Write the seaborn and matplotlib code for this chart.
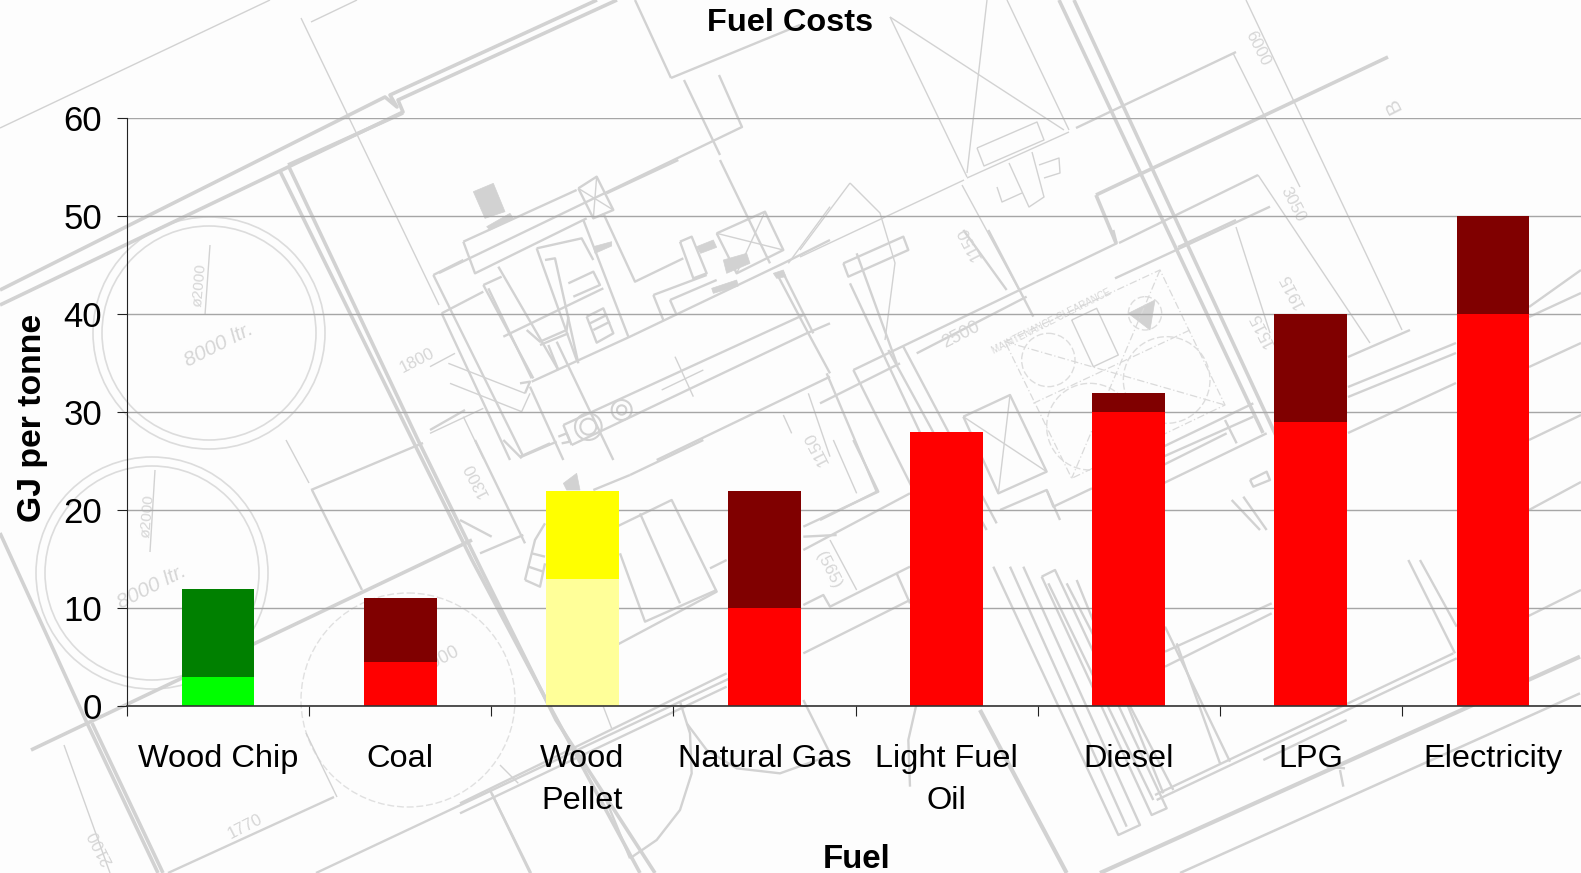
import matplotlib
matplotlib.use("Agg")
import matplotlib.pyplot as plt
import seaborn as sns
import pandas as pd
from matplotlib.patches import Circle, Polygon

# Fuel cost bands (lower and upper end of each range)
fuels = ["Wood Chip", "Coal", "Wood\nPellet", "Natural Gas", "Light Fuel\nOil", "Diesel", "LPG", "Electricity"]
band_low = [3, 4.5, 13, 10, 28, 30, 29, 40]
band_high = [12, 11, 22, 22, 28, 32, 40, 50]
low_colours = ["#00ff00", "#ff0000", "#ffff99", "#ff0000", "#ff0000", "#ff0000", "#ff0000", "#ff0000"]
high_colours = ["#008000", "#800000", "#ffff00", "#800000", "#800000", "#800000", "#800000", "#800000"]
y_ticks = [0, 10, 20, 30, 40, 50, 60]

W, H = 1581, 873
PLAN = "#d2d2d2"
PAPER = "#fdfdfd"

sns.set_theme(style="white")
plt.rcParams["font.family"] = ["Liberation Sans", "DejaVu Sans"]

# Site plan line work behind the chart, in pixel units
heavy = [
    [(0, 290), (385, 97), (397, 107), (390, 95), (597, 0)],
    [(0, 305), (403, 112), (398, 100), (617, 0)],
    [(280, 171), (411, 437), (472, 560), (541, 690), (640, 873)],
    [(289, 167), (418, 440), (484, 575), (556, 720), (655, 873)],
    [(288, 165), (403, 113)],
    [(1059, 0), (1263, 433)],
    [(1074, 0), (1278, 440)],
    [(31, 750), (472, 540)],
    [(0, 533), (87, 723), (158, 873)],
    [(92, 723), (163, 873)],
    [(1096, 195), (1388, 57)],
    [(1096, 195), (1116, 243)],
]
medium = [
    [(1076, 128), (1236, 52)],
    [(1119, 243), (1258, 175)],
    [(1178, 247), (1236, 220)],
    [(1410, 330), (1348, 357)],
    [(1529, 307), (1581, 270)],
    [(1529, 317), (1581, 293)],
    [(1529, 367), (1581, 343)],
    [(1348, 387), (1456, 343)],
    [(1348, 397), (1456, 353)],
    [(1348, 433), (1456, 383)],
    [(671, 78), (800, 25)],
    [(671, 78), (635, 0)],
    [(719, 75), (742, 127), (439, 273)],
    [(684, 80), (720, 155)],
    [(316, 873), (790, 650)],
    [(168, 873), (334, 797)],
    [(311, 490), (423, 443)],
    [(312, 490), (362, 590)],
    [(490, 790), (531, 873)],
    [(1466, 510), (1510, 625)],
    [(1480, 640), (1581, 590)],
    [(1529, 440), (1581, 415)],
    [(1529, 510), (1581, 482)],
]
thin = [
    [(0, 128), (270, 0)],
    [(311, 22), (357, 0)],
    [(301, 18), (439, 305)],
    [(286, 440), (309, 483)],
    [(64, 745), (110, 873)],
    [(306, 733), (337, 797)],
    [(1246, 0), (1402, 330)],
    [(1258, 175), (1370, 343)],
    [(1233, 53), (1300, 187)],
    [(1236, 227), (1270, 333)],
    [(890, 17), (967, 177)],
    [(1007, 0), (1069, 130)],
    [(890, 17), (1064, 130)],
    [(987, 0), (967, 173)],
    [(967, 178), (1069, 132)],
    [(977, 148), (1037, 122), (1044, 140), (984, 166), (977, 148)],
    [(1009, 163), (1029, 207), (1044, 197), (1032, 152)],
    [(997, 187), (1002, 202), (1022, 193)],
    [(1039, 165), (1059, 158), (1060, 173), (1044, 178)],
    [(962, 185), (1019, 290)],
    [(964, 180), (800, 257)],
    [(850, 183), (800, 250)],
    [(850, 183), (880, 213), (895, 263), (885, 340)],
    [(210, 245), (205, 315)],
    [(155, 470), (150, 552)],
]

# Equipment blocks, drawn at three units per pixel from their own origin
machine_origin = (430, 160)
machine_medium = [
    [(10, 345), (280, 890)],
    [(35, 460), (240, 900)],
    [(10, 345), (100, 300)],
    [(100, 245), (440, 90)],
    [(100, 245), (135, 340), (470, 175)],
    [(445, 85), (500, 50), (550, 150), (490, 175), (445, 85)],
    [(530, 100), (745, 0)],
    [(460, 180), (595, 530)],
    [(520, 160), (615, 365), (760, 295)],
    [(750, 245), (785, 230), (830, 340), (790, 355), (750, 245)],
    [(320, 265), (455, 235), (490, 300)],
    [(345, 300), (375, 295), (445, 610)],
    [(160, 375), (215, 350)],
    [(160, 375), (310, 655)],
    [(175, 385), (305, 655)],
    [(305, 665), (600, 530), (1060, 310), (1200, 240)],
    [(35, 460), (160, 395)],
    [(205, 320), (385, 630)],
    [(320, 265), (440, 600)],
    [(415, 370), (490, 335), (510, 375), (430, 410)],
    [(220, 530), (520, 385)],
    [(290, 510), (330, 545), (410, 510), (415, 470)],
    [(330, 555), (415, 520)],
    [(355, 555), (385, 630)],
    [(380, 545), (550, 900)],
    [(670, 405), (700, 480)],
    [(670, 405), (830, 345)],
    [(720, 420), (740, 465)],
    [(720, 420), (860, 360)],
    [(860, 220), (1005, 155), (1060, 270), (920, 340), (860, 220)],
    [(870, 0), (1020, 310)],
    [(1040, 340), (1135, 520), (1200, 640)],
    [(1060, 340), (1150, 520)],
    [(400, 795), (1120, 465)],
    [(425, 855), (1130, 520), (1200, 490)],
    [(400, 795), (425, 855)],
    [(680, 900), (1200, 650)],
    [(270, 670), (300, 665), (285, 700)],
    [(300, 680), (400, 900)],
    [(275, 890), (380, 845)],
    [(0, 810), (105, 750)],
    [(385, 830), (410, 820), (420, 845), (395, 850)],
    [(470, 470), (520, 445), (550, 520), (500, 548), (470, 470)],
    [(480, 490), (530, 465)],
    [(490, 510), (540, 485)],
]
machine_thin = [
    [(445, 85), (550, 150)],
    [(500, 50), (490, 175)],
    [(860, 220), (1060, 270)],
    [(1005, 155), (920, 340)],
    [(0, 620), (75, 580)],
    [(160, 745), (0, 820)],
    [(55, 610), (285, 700)],
    [(60, 670), (275, 755), (300, 700)],
    [(100, 770), (160, 895)],
    [(735, 590), (790, 710)],
    [(695, 690), (820, 630)],
    [(1060, 765), (1085, 820)],
    [(1135, 700), (1200, 890)],
    [(1075, 310), (1200, 140)],
]
machine_solid = [
    [(130, 95), (190, 70), (225, 155), (165, 175)],
    [(170, 200), (240, 160), (250, 175), (180, 210)],
    [(880, 300), (950, 280), (960, 310), (890, 340)],
    [(845, 385), (920, 360), (925, 378), (850, 400)],
    [(800, 260), (850, 240), (860, 262), (812, 280)],
    [(490, 260), (545, 245), (545, 258), (495, 280)],
    [(1030, 340), (1060, 330), (1068, 350), (1040, 355)],
]
machine_rings = [(475, 800, 40), (475, 800, 24), (575, 750, 30), (575, 750, 14)]

tank_origin = (820, 230)
tank_medium = [
    [(100, 420), (890, 40), (880, 0)],
    [(100, 420), (340, 900)],
    [(0, 520), (240, 400)],
    [(290, 370), (620, 200)],
    [(430, 560), (570, 495), (680, 725), (535, 790), (430, 560)],
    [(1300, 520), (1030, 650)],
    [(1340, 610), (1030, 760)],
    [(1215, 570), (1250, 640)],
    [(540, 840), (680, 780), (720, 870)],
    [(680, 780), (700, 830), (816, 775)],
    [(70, 100), (250, 20), (265, 60), (85, 140), (70, 100)],
    [(110, 70), (230, 400)],
    [(20, 430), (170, 785), (0, 870)],
    [(90, 160), (320, 650)],
    [(205, 360), (500, 900)],
    [(250, 350), (530, 880)],
    [(505, 0), (640, 260)],
    [(430, 0), (560, 180)],
    [(885, 145), (1350, -70)],
    [(1030, 705), (1220, 610)],
    [(1030, 680), (1300, 560)],
    [(1290, 750), (1340, 725), (1350, 750), (1300, 770), (1290, 750)],
    [(1235, 810), (1320, 900)],
    [(1270, 800), (1340, 900)],
]
tank_dashed = [
    [(555, 335), (1020, 120), (1215, 525), (755, 745), (555, 335)],
    [(640, 520), (1110, 300)],
    [(555, 335), (1215, 525)],
    [(1020, 120), (755, 745)],
]
tank_thin = [
    [(430, 560), (680, 725)],
    [(570, 495), (535, 790)],
    [(755, 270), (830, 235), (895, 375), (820, 410), (755, 270)],
]
tank_solid = [[(925, 250), (1005, 210), (990, 300)]]
tank_rings = [(685, 390, 80), (1040, 450, 130), (810, 590, 130), (975, 250, 50)]

pipes_origin = (980, 560)
pipes_medium = [
    [(40, 20), (415, 825), (480, 795), (130, 20)],
    [(90, 20), (440, 800)],
    [(185, 50), (225, 30), (560, 745), (515, 765), (185, 50)],
    [(205, 70), (520, 720)],
    [(260, 70), (580, 690)],
    [(290, 60), (550, 700)],
    [(530, 720), (1430, 295)],
    [(525, 705), (1420, 280)],
    [(555, 275), (875, 130)],
    [(555, 320), (875, 160)],
    [(555, 200), (750, 605)],
    [(590, 250), (720, 610)],
    [(1285, 0), (1425, 280)],
    [(1320, 0), (1430, 200)],
    [(850, 600), (1100, 480)],
    [(1040, 620), (1095, 625)],
    [(1080, 630), (1090, 680)],
]
pipes_heavy = [
    [(360, 939), (1800, 290)],
    [(0, 450), (260, 939)],
]
pipes_light = [[(600, 939), (1800, 400)]]

store_origin = (460, 440)
store_medium = [
    [(470, 260), (635, 180), (770, 455), (470, 615)],
    [(540, 220), (660, 490)],
    [(480, 340), (555, 545), (770, 450)],
    [(180, 50), (270, 10)],
    [(130, 0), (185, 55)],
    [(510, 105), (730, 0)],
    [(400, 150), (510, 105)],
    [(750, 385), (800, 360)],
    [(1030, 330), (1350, 160)],
    [(1030, 495), (1090, 465), (1110, 500), (1350, 380)],
    [(1030, 640), (1350, 480)],
    [(1030, 290), (1130, 285)],
    [(1310, 400), (1350, 490)],
    [(0, 1120), (800, 740)],
    [(0, 1090), (800, 700)],
    [(95, 1060), (210, 1299)],
    [(430, 1060), (510, 1255)],
    [(660, 785), (690, 880), (695, 1000), (660, 1110), (590, 1200), (510, 1255)],
    [(680, 850), (740, 930), (830, 985), (960, 1000), (1100, 950)],
    [(1030, 780), (1110, 940)],
    [(1350, 1040), (1345, 900), (1370, 790)],
    [(60, 340), (190, 285)],
    [(45, 0), (195, 310)],
    [(0, 240), (95, 290)],
    [(1180, 0), (1255, 155), (1030, 260)],
    [(195, 420), (225, 300), (255, 250)],
    [(195, 420), (240, 440), (255, 370)],
    [(205, 380), (250, 395)],
    [(215, 340), (255, 350)],
]
store_thin = [
    [(1110, 300), (1190, 450)],
    [(1120, 0), (1190, 160)],
    [(430, 800), (455, 865)],
    [(120, 975), (175, 1030)],
]
store_solid = [
    [(310, 130), (350, 100), (360, 150), (320, 150)],
]

circles = [(209, 333, 116), (209, 333, 107), (152, 573, 116), (152, 573, 107)]
dashed_circles = [(408, 700, 107)]
plan_labels = [
    ("8000 ltr.", 219, 345, 27, 15, "italic"),
    ("8000 ltr.", 152, 587, 27, 15, "italic"),
    ("ø2000", 200, 285, 85, 11, "normal"),
    ("ø2000", 148, 516, 85, 11, "normal"),
    ("2000", 440, 660, 27, 13, "normal"),
    ("1800", 417, 361, 27, 12, "normal"),
    ("1300", 476, 480, 117, 12, "normal"),
    ("1150", 817, 448, 117, 12, "normal"),
    ("1150", 970, 243, 117, 12, "normal"),
    ("2500", 961, 335, 27, 13, "normal"),
    ("1770", 245, 827, 27, 12, "normal"),
    ("2100", 101, 848, 117, 12, "normal"),
    ("(565)", 829, 570, -63, 12, "normal"),
    ("6000", 1258, 48, -63, 12, "normal"),
    ("3050", 1293, 204, -63, 12, "normal"),
    ("1915", 1292, 291, 117, 12, "normal"),
    ("1515", 1262, 330, 117, 12, "normal"),
    ("B", 1393, 105, 117, 15, "normal"),
    ("MAINTENANCE CLEARANCE", 1052, 321, 27, 7, "normal"),
]


def placed(origin, path):
    return [(origin[0] + x / 3, origin[1] + y / 3) for x, y in path]


fig = plt.figure(figsize=(W / 100, H / 100), dpi=100, facecolor=PAPER)

plan = fig.add_axes([0, 0, 1, 1], zorder=0)
plan.set_xlim(0, W)
plan.set_ylim(H, 0)
plan.axis("off")


def trace(paths, width, origin=(0, 0), scale_down=False, **style):
    for path in paths:
        pts = placed(origin, path) if scale_down else path
        xs, ys = zip(*pts)
        plan.plot(xs, ys, color=style.get("color", PLAN), lw=width, ls=style.get("ls", "-"),
                  solid_capstyle="butt")


def rings(centres, origin, color="#dddddd", lw=1.0, ls=(0, (5, 2))):
    for cx, cy, r in centres:
        plan.add_patch(Circle((origin[0] + cx / 3, origin[1] + cy / 3), r / 3, fill=False,
                              ec=color, lw=lw, ls=ls))


def solids(paths, origin):
    for path in paths:
        plan.add_patch(Polygon(placed(origin, path), closed=True, fc=PLAN, ec=PLAN, lw=0.5))


trace(heavy, 2.6)
trace(medium, 1.7)
trace(thin, 1.0)
trace(machine_medium, 1.7, machine_origin, True)
trace(machine_thin, 1.0, machine_origin, True)
solids(machine_solid, machine_origin)
rings(machine_rings, machine_origin, color=PLAN, lw=1.5, ls="-")
trace(tank_medium, 1.7, tank_origin, True)
trace(tank_dashed, 0.9, tank_origin, True, color="#dadada", ls=(0, (6, 2, 1, 2)))
trace(tank_thin, 1.0, tank_origin, True)
solids(tank_solid, tank_origin)
rings(tank_rings, tank_origin)
trace(pipes_medium, 1.7, pipes_origin, True)
trace(pipes_heavy, 3.0, pipes_origin, True)
trace(pipes_light, 1.8, pipes_origin, True)
trace(store_medium, 1.7, store_origin, True)
trace(store_thin, 1.0, store_origin, True)
solids(store_solid, store_origin)
for cx, cy, r in circles:
    plan.add_patch(Circle((cx, cy), r, fill=False, ec="#dcdcdc", lw=1.2))
for cx, cy, r in dashed_circles:
    plan.add_patch(Circle((cx, cy), r, fill=False, ec="#e0e0e0", lw=1.0, ls=(0, (5, 2))))
for label, x, y, angle, size, slant in plan_labels:
    plan.text(x, y, label, color="#d6d6d6", fontsize=size, rotation=angle, style=slant,
              ha="center", va="center", rotation_mode="anchor")

# Chart area runs slightly past the right edge of the figure
left, right = 127, 1584
top, bottom = 118, 706.3
ax = fig.add_axes([left / W, 1 - bottom / H, (right - left) / W, (bottom - top) / H], zorder=1)
ax.patch.set_visible(False)

table = pd.DataFrame({"fuel": fuels, "low": band_low, "high": band_high})
sns.barplot(data=table, x="fuel", y="high", hue="fuel", palette=high_colours, legend=False,
            width=0.4, saturation=1, dodge=False, linewidth=0, ax=ax, zorder=3)
sns.barplot(data=table, x="fuel", y="low", hue="fuel", palette=low_colours, legend=False,
            width=0.4, saturation=1, dodge=False, linewidth=0, ax=ax, zorder=4)

ax.set_xlim(-0.5, 7.5)
ax.set_ylim(0, 60)
ax.set_yticks(y_ticks)
ax.set_xticks([i - 0.5 for i in range(9)])
ax.set_xticklabels([])
ax.set_xticks(range(len(fuels)), labels=fuels, minor=True)
ax.tick_params(axis="x", which="major", direction="out", length=7.5, width=0.8, color="#222222", bottom=True)
ax.tick_params(axis="x", which="minor", length=0, pad=27, labelsize=23.4, labelcolor="black")
ax.tick_params(axis="y", direction="out", length=7.5, width=0.8, color="#222222", left=True, pad=10.5,
               labelsize=25, labelcolor="black")
ax.yaxis.grid(True, color="#a6a6a6", lw=1.0, zorder=1)
ax.xaxis.grid(False)
ax.set_axisbelow(True)
ax.set_xlabel("")
ax.set_ylabel("")
for side in ("top", "right"):
    ax.spines[side].set_visible(False)
ax.spines["left"].set_color("#222222")
ax.spines["left"].set_linewidth(0.8)
ax.spines["bottom"].set_color("#333333")
ax.spines["bottom"].set_linewidth(1.2)
for spine in ax.spines.values():
    spine.set_zorder(6)
for label in ax.get_xticklabels(minor=True):
    label.set_linespacing(1.52)

fig.text(790 / W, 1 - 23 / H, "Fuel Costs", ha="center", va="center", fontsize=23.4, fontweight="bold", color="black")
fig.text(857 / W, 1 - 859 / H, "Fuel", ha="center", va="center", fontsize=23.8, fontweight="bold", color="black")
fig.text(33 / W, 1 - 418 / H, "GJ per tonne", ha="center", va="center", rotation=90, fontsize=24.3,
         fontweight="bold", color="black")

fig.savefig("out.png", dpi=100, facecolor=PAPER)
